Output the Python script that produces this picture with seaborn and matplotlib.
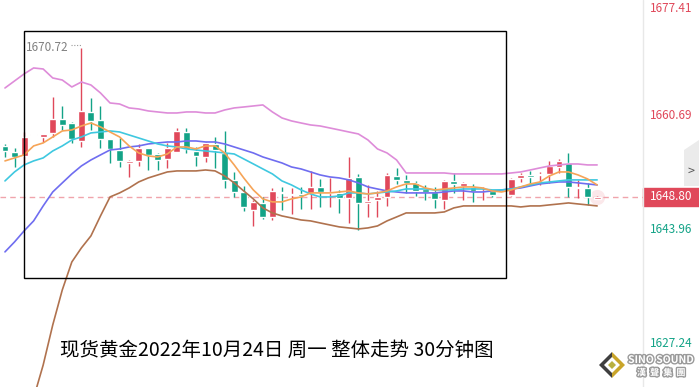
import numpy as np
import pandas as pd
import matplotlib
matplotlib.use("Agg")
import matplotlib.pyplot as plt
import matplotlib.transforms as mtransforms
import matplotlib.patheffects as pe
from matplotlib.patches import Rectangle, Polygon
import seaborn as sns

sns.set_style("white")
plt.rcParams['font.family'] = ['Noto Sans CJK SC', 'DejaVu Sans']

# ============ DATA (30 min candles) ============
opens = [1656.28, 1655.40, 1654.81, 1657.90, 1657.60, 1658.19, 1660.25, 1659.66, 1657.02, 1661.27,
         1660.10, 1657.31, 1655.69, 1653.79, 1654.08, 1655.99, 1655.11, 1654.37, 1655.40, 1658.34,
         1655.55, 1654.67, 1656.58, 1655.25, 1651.29, 1649.53, 1646.88, 1647.91, 1645.86, 1649.53,
         1649.09, 1649.23, 1649.38, 1650.26, 1649.38, 1649.38, 1648.65, 1651.73, 1647.91, 1648.35,
         1648.79, 1651.88, 1651.29, 1650.85, 1649.97, 1649.53, 1648.35, 1651.14, 1650.41, 1650.26,
         1649.60, 1649.67, 1649.05, 1649.09, 1651.58, 1652.02, 1652.02, 1652.17, 1653.20, 1653.79,
         1650.05, 1650.11, 1648.50]
closes = [1655.55, 1654.67, 1657.60, 1658.04, 1658.04, 1660.25, 1659.36, 1657.31, 1661.42, 1659.95,
          1657.31, 1655.84, 1654.08, 1654.08, 1655.99, 1654.96, 1654.23, 1655.99, 1658.48, 1655.84,
          1654.81, 1656.72, 1655.69, 1651.29, 1649.53, 1647.32, 1648.06, 1645.86, 1649.67, 1649.38,
          1649.23, 1648.94, 1650.26, 1649.53, 1649.53, 1648.65, 1651.58, 1647.91, 1648.21, 1648.79,
          1652.02, 1651.29, 1650.85, 1649.67, 1649.53, 1648.50, 1651.14, 1650.70, 1650.85, 1649.67,
          1649.70, 1649.09, 1649.10, 1651.44, 1652.02, 1651.73, 1652.17, 1653.34, 1654.08, 1650.26,
          1650.11, 1648.79, 1648.80]
highs = [1656.58, 1655.99, 1658.34, 1658.04, 1658.04, 1663.48, 1662.15, 1659.81, 1670.72, 1663.33,
         1662.15, 1657.31, 1657.46, 1654.23, 1656.58, 1655.99, 1655.25, 1656.72, 1658.92, 1658.92,
         1656.13, 1656.87, 1657.60, 1658.48, 1652.46, 1650.41, 1648.35, 1648.79, 1650.11, 1650.26,
         1650.11, 1650.26, 1652.61, 1651.44, 1651.58, 1649.82, 1654.67, 1652.17, 1650.55, 1649.67,
         1652.32, 1653.05, 1652.02, 1651.14, 1650.55, 1650.26, 1651.29, 1652.32, 1651.00, 1650.70,
         1650.26, 1649.67, 1649.10, 1651.58, 1652.32, 1652.61, 1652.46, 1654.08, 1654.37, 1655.25,
         1651.29, 1650.85, 1648.90]
lows = [1654.67, 1653.20, 1653.49, 1657.90, 1656.87, 1657.60, 1658.63, 1656.72, 1656.13, 1658.63,
        1655.99, 1653.79, 1653.20, 1651.73, 1653.34, 1652.76, 1652.76, 1653.05, 1655.40, 1655.25,
        1653.34, 1653.93, 1653.05, 1650.11, 1648.79, 1646.74, 1644.53, 1645.56, 1645.42, 1646.88,
        1646.30, 1647.03, 1647.03, 1647.32, 1647.32, 1646.44, 1644.97, 1643.96, 1645.86, 1645.86,
        1647.47, 1650.70, 1649.38, 1648.94, 1648.35, 1647.18, 1647.03, 1649.38, 1648.35, 1648.06,
        1648.35, 1648.79, 1649.05, 1648.94, 1651.00, 1650.55, 1650.55, 1650.85, 1652.32, 1648.79,
        1648.65, 1647.62, 1648.45]

# moving averages and bollinger bands
ma_short = [1654.09, 1654.53, 1654.97, 1656.29, 1656.73, 1657.61, 1658.49, 1658.64, 1659.22, 1659.66,
            1659.08, 1658.34, 1657.61, 1656.29, 1655.26, 1654.82, 1654.67, 1655.11, 1656.14, 1656.14,
            1655.85, 1656.29, 1656.29, 1655.26, 1653.50, 1651.59, 1649.83, 1648.51, 1648.07, 1648.07,
            1648.51, 1648.80, 1649.39, 1649.39, 1649.39, 1649.53, 1649.68, 1649.39, 1649.24, 1649.39,
            1649.68, 1650.27, 1650.71, 1650.71, 1650.12, 1649.83, 1649.97, 1650.12, 1650.27, 1650.27,
            1650.12, 1649.68, 1649.53, 1649.83, 1650.27, 1650.71, 1651.00, 1651.88, 1652.47, 1652.47,
            1652.03, 1651.44, 1650.56]
ma_mid = [1651.15, 1652.47, 1653.50, 1654.09, 1654.53, 1655.55, 1656.29, 1657.17, 1657.61, 1658.20,
          1658.34, 1658.49, 1658.34, 1657.90, 1657.46, 1657.02, 1656.58, 1656.29, 1656.14, 1655.85,
          1655.70, 1655.55, 1655.41, 1655.26, 1655.11, 1654.38, 1653.65, 1652.91, 1652.18, 1651.15,
          1650.56, 1649.83, 1649.24, 1648.80, 1648.80, 1648.95, 1649.39, 1649.39, 1649.24, 1649.39,
          1649.53, 1649.68, 1649.97, 1649.97, 1649.97, 1649.83, 1649.83, 1649.83, 1649.97, 1649.97,
          1649.97, 1649.83, 1649.83, 1649.97, 1650.27, 1650.56, 1650.86, 1651.00, 1651.15, 1651.30,
          1651.30, 1651.30, 1651.30]
ma_long = [1640.73, 1642.19, 1643.81, 1645.28, 1647.48, 1649.53, 1650.86, 1652.18, 1653.35, 1654.23,
           1654.97, 1655.70, 1655.85, 1656.14, 1656.29, 1656.58, 1656.73, 1656.87, 1656.87, 1657.02,
           1657.02, 1656.87, 1656.87, 1656.58, 1656.14, 1655.70, 1655.26, 1654.67, 1654.23, 1653.79,
           1653.20, 1652.91, 1652.47, 1652.03, 1651.74, 1651.59, 1651.30, 1650.86, 1650.27, 1649.97,
           1649.68, 1649.53, 1649.39, 1649.39, 1649.39, 1649.39, 1649.53, 1649.68, 1649.68, 1649.53,
           1649.53, 1649.68, 1649.83, 1649.97, 1650.12, 1650.42, 1650.71, 1650.86, 1651.00, 1651.00,
           1650.86, 1650.71, 1650.56]
boll_up = [1664.80, 1665.83, 1666.86, 1667.74, 1667.59, 1666.27, 1665.97, 1664.95, 1665.68, 1665.24,
           1664.07, 1662.60, 1662.45, 1661.87, 1661.72, 1661.43, 1661.28, 1661.13, 1661.13, 1661.28,
           1661.28, 1661.13, 1661.13, 1661.57, 1661.87, 1662.01, 1662.16, 1662.31, 1661.28, 1660.40,
           1659.96, 1659.66, 1659.37, 1659.22, 1658.93, 1658.64, 1658.34, 1658.05, 1657.17, 1655.85,
           1655.26, 1654.23, 1652.32, 1652.32, 1652.32, 1652.32, 1652.32, 1652.18, 1652.18, 1652.18,
           1652.18, 1652.18, 1652.18, 1652.32, 1652.47, 1652.76, 1653.06, 1653.35, 1653.50, 1653.64,
           1653.64, 1653.50, 1653.50]
boll_low = [1608.70, 1612.37, 1616.05, 1619.28, 1624.12, 1629.99, 1635.14, 1639.25, 1641.31, 1643.08,
            1646.01, 1648.80, 1649.39, 1650.12, 1651.00, 1651.59, 1652.03, 1652.47, 1652.62, 1652.62,
            1652.62, 1652.76, 1652.62, 1651.88, 1650.86, 1649.68, 1648.51, 1647.19, 1646.45, 1646.01,
            1645.72, 1645.42, 1645.28, 1644.98, 1644.69, 1644.40, 1644.25, 1644.10, 1644.25, 1644.54,
            1645.28, 1645.86, 1646.45, 1646.45, 1646.45, 1646.45, 1646.60, 1647.19, 1647.48, 1647.48,
            1647.48, 1647.48, 1647.48, 1647.48, 1647.33, 1647.48, 1647.48, 1647.63, 1647.77, 1647.92,
            1647.77, 1647.63, 1647.48]

axis_prices = [1677.41, 1660.69, 1643.96, 1627.24]
last_price = 1648.80
peak_price = 1670.72
title = "现货黄金2022年10月24日 周一 整体走势 30分钟图"

RED = "#E0485A"
GREEN = "#13A387"

# ============ FIGURE ============
fig = plt.figure(figsize=(6.99, 3.87), dpi=100)
ax = fig.add_axes([0, 0, 643 / 699, 1])
ax.set_xlim(-0.52, 66.8)
ax.set_ylim(1620.89, 1677.72)
ax.axis("off")

idx = np.arange(len(closes))
o = np.array(opens)
c = np.array(closes)
cols = [RED if cc >= oo else GREEN for oo, cc in zip(o, c)]

# doji uchun minimal balandlik
body_h = np.maximum(np.abs(c - o), 0.14)
ax.vlines(idx, lows, highs, colors=cols, lw=1, zorder=2)
ax.bar(idx, body_h, bottom=np.minimum(o, c), width=0.72, color=cols, zorder=2)

# last candle glow
ax.scatter([idx[-1]], [closes[-1]], s=120, color=RED, alpha=0.12, lw=0, zorder=1)

lines = pd.DataFrame({"idx": idx, "short": ma_short, "mid": ma_mid, "long": ma_long,
                      "up": boll_up, "low": boll_low})
for col, colr in [("up", "#DE8CD9"), ("low", "#B0724E"), ("long", "#6F6DF0"),
                  ("mid", "#3FC8E0"), ("short", "#F6A457")]:
    sns.lineplot(data=lines, x="idx", y=col, color=colr, lw=1.2, ax=ax, zorder=3, legend=False)
ax.axis("off")

# current price dashed line
ax.axhline(last_price, color="#F0A4AC", lw=1, ls=(0, (4, 3)), zorder=1)

# highlight rectangle
ax.add_patch(Rectangle((1.99, 1636.90), 50.47, 36.27, fill=False, ec="black", lw=1, zorder=4))

# peak label
ax.text(2.2, peak_price, "1670.72", color="#808080", fontsize=8.5, va="center", ha="left", zorder=5)
ax.plot([6.9, 8], [peak_price + 0.4, peak_price + 0.4], color="#9a9a9a", lw=0.8,
        ls=(0, (1, 1.5)), zorder=5)

# ============ RIGHT AXIS ============
tr = mtransforms.blended_transform_factory(fig.transFigure, ax.transData)
fig.add_artist(plt.Line2D([643 / 699, 643 / 699], [0, 1], color="#E8E8E8", lw=1))
for p in axis_prices:
    colr = RED if p > last_price else GREEN
    va = "top" if p == max(axis_prices) else "center"
    yy = p if va == "center" else ax.get_ylim()[1] - 0.25
    ax.text(650 / 699, yy, f"{p:.2f}", transform=tr, color=colr, fontsize=8.5,
            ha="left", va=va, clip_on=False)

ax.add_patch(Rectangle((643 / 699, last_price - 1.3), 56 / 699, 2.6, transform=tr,
                       color=RED, clip_on=False, zorder=6))
ax.text(671 / 699, last_price, f"{last_price:.2f}", transform=tr, color="white",
        fontsize=8.5, ha="center", va="center", clip_on=False, zorder=7)

# side tab
tab = [(684, 150), (699, 140), (699, 186), (684, 186)]
fig.add_artist(Polygon([(x / 699, 1 - y / 387) for x, y in tab], closed=True,
                       transform=fig.transFigure, fc="#EBEBEB", ec="none"))
fig.text(691 / 699, 1 - 171 / 387, ">", color="#555555", fontsize=9, ha="center", va="center")

# ============ TITLE ============
fig.text(60 / 699, 1 - 350 / 387, title, fontsize=14, color="black", ha="left", va="center")

# ============ LOGO ============
cx, cy, r = 612, 365, 13
def px(pts):
    return [(x / 699, 1 - y / 387) for x, y in pts]
fig.add_artist(Polygon(px([(cx - r, cy), (cx, cy - r), (cx, cy + r)]), transform=fig.transFigure,
                       fc="#3f3f3f", ec="none"))
fig.add_artist(Polygon(px([(cx, cy - r), (cx + r, cy), (cx, cy + r)]), transform=fig.transFigure,
                       fc="#C9A52A", ec="none"))
fig.add_artist(Polygon(px([(cx - 8, cy), (cx, cy - 8), (cx + 8, cy), (cx, cy + 8)]),
                       transform=fig.transFigure, fc="white", ec="none"))
fig.add_artist(Polygon(px([(cx - 4, cy), (cx, cy - 4), (cx + 4, cy), (cx, cy + 4)]),
                       transform=fig.transFigure, fc="#B9B040", ec="none"))
stroke = [pe.withStroke(linewidth=2, foreground="#9A9A9A")]
fig.text(661 / 699, 1 - 360 / 387, "SINO SOUND", color="white", fontsize=7.5, fontweight="bold",
         ha="center", va="center", path_effects=stroke)
fig.text(661 / 699, 1 - 373 / 387, "漢  聲  集  團", color="white", fontsize=6.5, fontweight="bold",
         ha="center", va="center", path_effects=stroke)

fig.savefig("out.png", dpi=100)
